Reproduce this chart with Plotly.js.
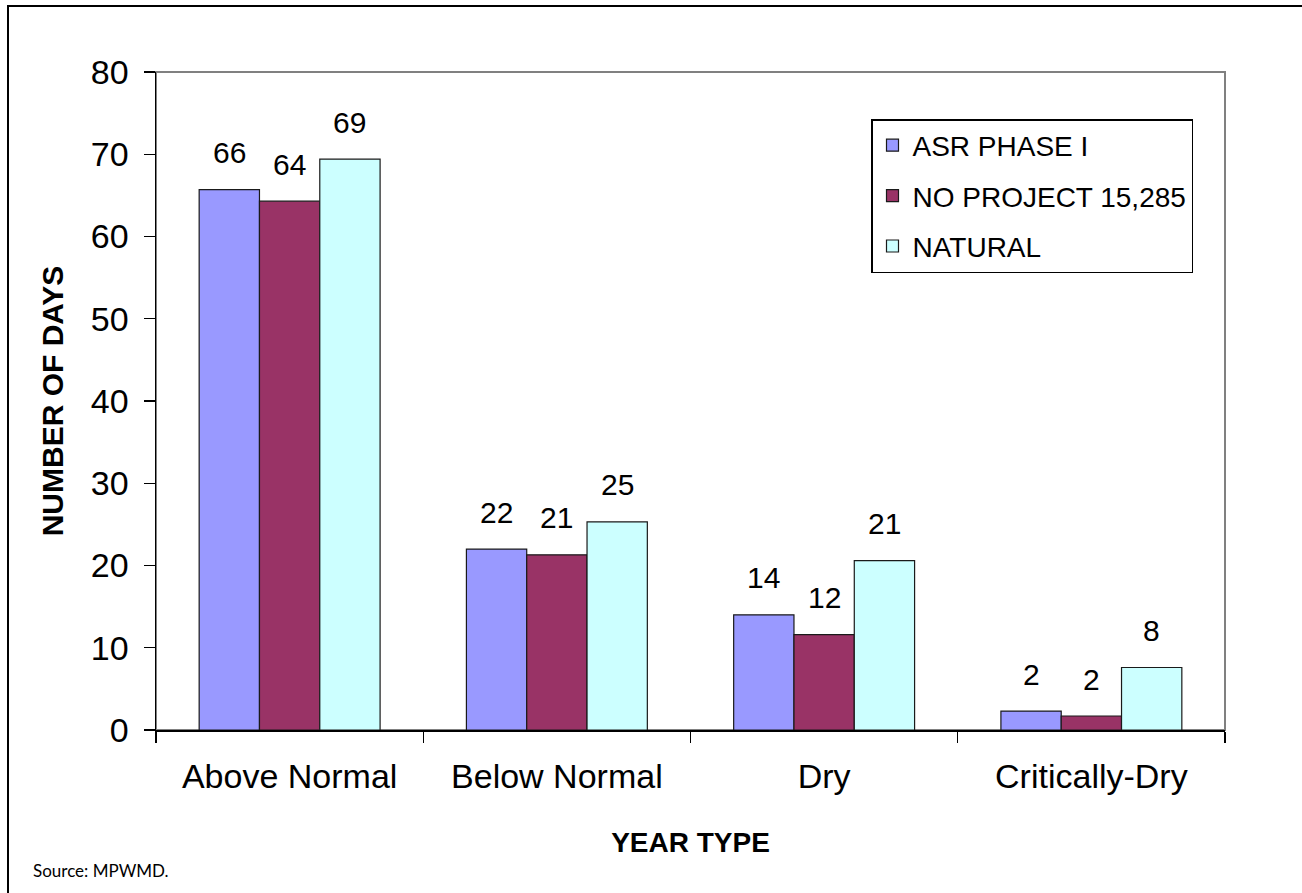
<!DOCTYPE html>
<html>
<head>
<meta charset="utf-8">
<script src="https://cdn.plot.ly/plotly-3.0.1.min.js"></script>
<style>
  html, body { margin: 0; padding: 0; background: #fff; }
  #wrap { position: relative; width: 1302px; height: 893px; overflow: hidden; }
  #chart { position: absolute; left: 0; top: 0; width: 1302px; height: 893px; }
  #frame { position: absolute; left: 7px; top: 5px; width: 1400px; height: 1000px;
           border-left: 2px solid #000; border-top: 2px solid #000; pointer-events: none; }
</style>
</head>
<body>
<div id="wrap">
  <div id="chart"></div>
  <div id="frame"></div>
</div>
<script>
// Year types on the x axis
const yearTypes = ['Above Normal', 'Below Normal', 'Dry', 'Critically-Dry'];

// Number of days per scenario
const asrPhase1 = [65.7, 22.0, 14.0, 2.3];
const noProject = [64.3, 21.3, 11.6, 1.7];
const natural   = [69.4, 25.3, 20.6, 7.6];

const seriesNames = ['ASR PHASE I', 'NO PROJECT 15,285', 'NATURAL'];
const seriesValues = [asrPhase1, noProject, natural];
const seriesColors = ['#9999FF', '#993366', '#CCFFFF'];

const yTicks = [0, 10, 20, 30, 40, 50, 60, 70, 80];

const FONT = 'Liberation Sans, Arial, Helvetica, sans-serif';

// Plot-area geometry (pixels)
const W = 1302, H = 893;
const M = { l: 156, r: 77, t: 72, b: 163 };
const BARGAP = 0.323;
const catPx = (W - M.l - M.r) / yearTypes.length;
const barPx = catPx * (1 - BARGAP) / seriesNames.length;

const traces = seriesNames.map((name, i) => ({
  type: 'bar',
  name: name,
  legendgroup: 'g' + i,
  x: yearTypes,
  y: seriesValues[i],
  marker: { color: seriesColors[i], line: { color: '#1a1a1a', width: 1.2 } },
  hoverinfo: 'x+y+name'
}));

// Rounded value labels above each bar
const annotations = [];
seriesValues.forEach((vals, i) => {
  vals.forEach((v, j) => {
    annotations.push({
      x: yearTypes[j], y: v, xref: 'x', yref: 'y',
      text: String(Math.round(v)),
      showarrow: false,
      xanchor: 'center', yanchor: 'middle',
      xshift: (i - (seriesNames.length - 1) / 2) * barPx,
      yshift: 37,
      font: { family: FONT, size: 30, color: '#000' }
    });
  });
});

annotations.push({
  text: 'Source: MPWMD.',
  xref: 'paper', yref: 'paper',
  x: (31 - M.l) / (W - M.l - M.r),
  y: -(871 - (H - M.b)) / (H - M.t - M.b),
  xanchor: 'left', yanchor: 'middle',
  showarrow: false,
  font: { family: 'Lato, Open Sans, sans-serif', size: 17, color: '#000' }
});

const layout = {
  width: W, height: H,
  margin: M,
  paper_bgcolor: '#fff',
  plot_bgcolor: '#fff',
  barmode: 'group',
  bargap: BARGAP,
  bargroupgap: 0,
  font: { family: FONT, color: '#000' },
  showlegend: true,
  legend: {
    x: (871 - M.l) / (W - M.l - M.r),
    y: ((H - M.b) - 119) / (H - M.t - M.b),
    xanchor: 'left', yanchor: 'top',
    bgcolor: '#fff',
    bordercolor: '#000', borderwidth: 1.5,
    font: { family: FONT, size: 28, color: '#000' },
    tracegroupgap: 11,
    traceorder: 'grouped'
  },
  xaxis: {
    type: 'category',
    showline: true, linecolor: '#000', linewidth: 1.5,
    ticks: 'outside', tickson: 'boundaries', ticklen: 11, tickcolor: '#000', tickwidth: 1.2,
    tickfont: { family: FONT, size: 34, color: '#000' },
    ticklabelstandoff: 16,
    showgrid: false, zeroline: false,
    title: { text: '<b>YEAR TYPE</b>', font: { family: FONT, size: 28, color: '#000' }, standoff: 38 },
    fixedrange: true
  },
  yaxis: {
    range: [0, 80],
    tickvals: yTicks,
    showline: true, linecolor: '#000', linewidth: 1.5,
    ticks: 'outside', ticklen: 11, tickcolor: '#000', tickwidth: 1.2,
    tickfont: { family: FONT, size: 34, color: '#000' },
    ticklabelstandoff: 8,
    showgrid: false, zeroline: false,
    title: { text: '<b>NUMBER OF DAYS</b>', font: { family: FONT, size: 30, color: '#000' }, standoff: 18 },
    fixedrange: true
  },
  shapes: [{
    type: 'rect', xref: 'paper', yref: 'paper', x0: 0, x1: 1, y0: 0, y1: 1,
    line: { color: '#808080', width: 2 }, layer: 'below'
  }],
  annotations: annotations
};

Plotly.newPlot('chart', traces, layout, { displayModeBar: false, staticPlot: true });
</script>
</body>
</html>
